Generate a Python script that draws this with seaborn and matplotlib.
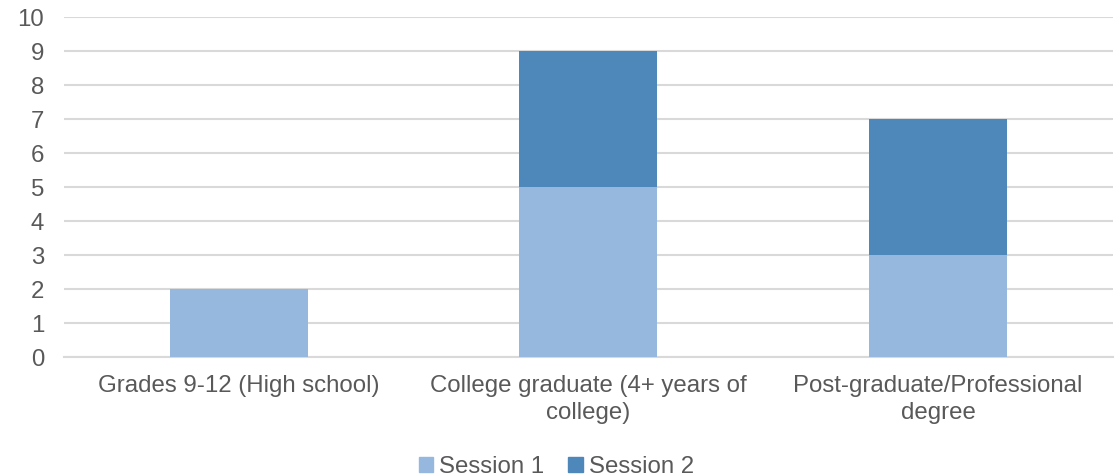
import pandas as pd
import seaborn as sns
import matplotlib.pyplot as plt
from matplotlib.patches import Patch

# data
categories = ["Grades 9-12 (High school)",
              "College graduate (4+ years of\ncollege)",
              "Post-graduate/Professional\ndegree"]
session1 = [2, 5, 3]
session2 = [0, 4, 4]

light = "#97B8DE"
dark = "#4E88BB"

df = pd.DataFrame({"cat": categories, "Session 1": session1, "Session 2": session2})
df["total"] = df["Session 1"] + df["Session 2"]

sns.set_theme(style="white")
plt.rcParams['font.family'] = ['Liberation Sans', 'DejaVu Sans']

fig = plt.figure(figsize=(11.19, 4.76), dpi=100)
ax = fig.add_axes([0.057, 0.25, 0.9376, 0.714])

# stacked bars: total first (dark), then session 1 on top (light)
sns.barplot(data=df, x="cat", y="total", color=dark, width=0.395,
            saturation=1, linewidth=0, ax=ax, zorder=3)
sns.barplot(data=df, x="cat", y="Session 1", color=light, width=0.395,
            saturation=1, linewidth=0, ax=ax, zorder=3)

ax.set_ylim(0, 10)
ax.set_yticks(range(0, 11))
ax.set_xlim(-0.5, 2.5)
ax.set_xlabel("")
ax.set_ylabel("")

ax.yaxis.grid(True, color="#D9D9D9", linewidth=1.5)
ax.set_axisbelow(True)
for s in ["top", "right", "left"]:
    ax.spines[s].set_visible(False)
ax.spines["bottom"].set_color("#D9D9D9")
ax.spines["bottom"].set_linewidth(1.5)

ax.tick_params(axis="both", length=0, labelsize=17.3, colors="#595959")
ax.tick_params(axis="y", pad=14)
ax.tick_params(axis="x", pad=13)
for lab in ax.get_xticklabels():
    lab.set_linespacing(1.3)

handles = [Patch(color=light, label="Session 1"), Patch(color=dark, label="Session 2")]
fig.legend(handles=handles, loc="lower center", bbox_to_anchor=(0.497, -0.05),
           ncol=2, frameon=False, fontsize=17.3, handlelength=0.6, handleheight=0.6,
           handletextpad=0.25, columnspacing=1.0, labelcolor="#595959")

plt.savefig("out.png", dpi=100)
plt.close()
